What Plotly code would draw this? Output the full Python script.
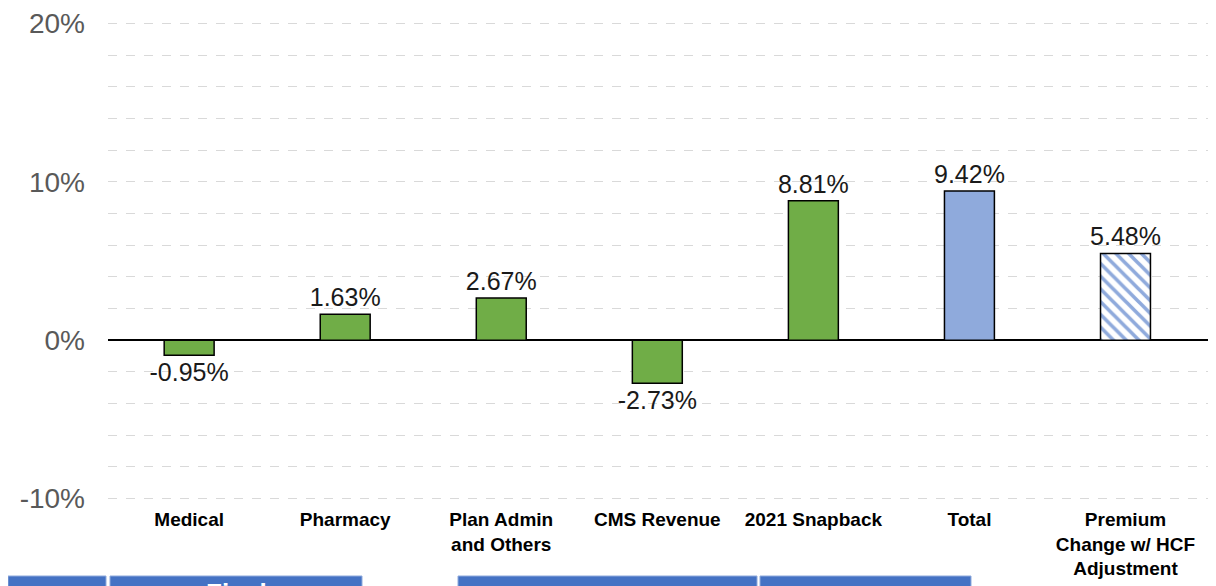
import plotly.graph_objects as go

CATEGORIES = ["Medical", "Pharmacy", "Plan Admin<br>and Others", "CMS Revenue",
              "2021 Snapback", "Total", "Premium<br>Change w/ HCF<br>Adjustment"]
VALUES = [-0.95, 1.63, 2.67, -2.73, 8.81, 9.42, 5.48]
COLORS = ["#70ad47", "#70ad47", "#70ad47", "#70ad47", "#70ad47", "#8faadc"]
HATCH_COLOR = "#8faadc"
TICK_VALS = [-10, 0, 10, 20]
TICK_LABELS = ["-10%", "0%", "10%", "20%"]

# page has an 8px body margin, so figure coords = page coords - 8
OFF = 8
W, H = 1216, 586
L, R, T, B = 100, 8, 14, 94
PW, PH = W - L - R, H - T - B


def px(x):
    return (x - OFF - L) / PW


def py(y):
    return (H - B - (y - OFF)) / PH


label_font = dict(size=25, color="#1a1a1a", family="Liberation Sans")
fig = go.Figure()
fig.add_trace(go.Bar(
    x=CATEGORIES[:-1], y=VALUES[:-1], width=0.32,
    marker=dict(color=COLORS, line=dict(color="black", width=1.5)),
    texttemplate="%{y:.2f}%", textposition="outside", cliponaxis=False,
    constraintext="none", textfont=label_font,
))
fig.add_trace(go.Bar(
    x=CATEGORIES[-1:], y=VALUES[-1:], width=0.32,
    marker=dict(color="white", line=dict(color="black", width=1.5),
                pattern=dict(shape="\\", fgcolor=HATCH_COLOR, bgcolor="white",
                             fillmode="replace", size=9, solidity=0.4)),
    texttemplate="%{y:.2f}%", textposition="outside", cliponaxis=False,
    constraintext="none", textfont=label_font,
))

# slide remnants below the chart (header boxes of the next table)
shapes = []
for x0, x1 in [(8, 106), (110, 362), (458, 757), (760, 971)]:
    shapes.append(dict(type="rect", xref="paper", yref="paper", x0=px(x0), x1=px(x1),
                       y0=py(600), y1=py(576), fillcolor="#4472c4",
                       line=dict(color="#8faadc", width=1)))

fig.update_layout(
    width=W, height=H, margin=dict(l=L, r=R, t=T, b=B, autoexpand=False),
    paper_bgcolor="white", plot_bgcolor="white", showlegend=False,
    barmode="overlay",
    font=dict(family="Liberation Sans"),
    shapes=shapes,
    annotations=[dict(text="<b>Final</b>", xref="paper", yref="paper", x=px(236), y=py(576),
                      xanchor="center", yanchor="top", showarrow=False,
                      font=dict(size=26, color="white", family="Liberation Sans"))],
    xaxis=dict(range=[-0.52, 6.58], showline=False, ticks="", showgrid=False, automargin=False,
               categoryorder="array", categoryarray=CATEGORIES,
               tickfont=dict(size=19, color="black", family="Liberation Sans"),
               tickprefix="<b>", ticksuffix="</b>", ticklabelstandoff=6),
    yaxis=dict(range=[-10.1, 20.1], tickmode="array", tickvals=TICK_VALS, ticktext=TICK_LABELS,
               showline=False, automargin=False,
               tickfont=dict(size=28, color="#595959"), ticklabelstandoff=22,
               ticklabeloverflow="allow",
               gridcolor="#d9d9d9", griddash="dash", gridwidth=1,
               minor=dict(dtick=2, showgrid=True, gridcolor="#d9d9d9", griddash="dash"),
               zeroline=True, zerolinecolor="black", zerolinewidth=1.5),
)

fig.write_html("out.html")
